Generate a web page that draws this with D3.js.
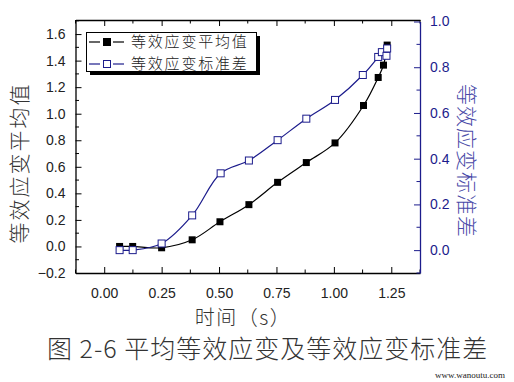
<!DOCTYPE html>
<html><head><meta charset="utf-8">
<script src="https://cdn.jsdelivr.net/npm/d3@7"></script>
<style>body{margin:0;background:#fff;}svg{display:block;}</style>
</head><body>
<script>
const timeS = [0.067, 0.124, 0.25, 0.383, 0.504, 0.63, 0.755, 0.88, 1.005, 1.129, 1.193, 1.216, 1.232];
const meanStrain = [0.0, 0.0, -0.01, 0.05, 0.186, 0.315, 0.483, 0.632, 0.78, 1.062, 1.273, 1.366, 1.517];
const stdTime = [0.067, 0.124, 0.25, 0.383, 0.507, 0.63, 0.755, 0.88, 1.005, 1.126, 1.193, 1.209, 1.229, 1.232];
const stdStrain = [0.0, 0.0, 0.029, 0.152, 0.336, 0.392, 0.481, 0.575, 0.657, 0.766, 0.845, 0.866, 0.85, 0.882];
const xTicks = [0.00, 0.25, 0.50, 0.75, 1.00, 1.25];
const yLeftTicks = [-0.2, 0.0, 0.2, 0.4, 0.6, 0.8, 1.0, 1.2, 1.4, 1.6];
const yRightTicks = [0.0, 0.2, 0.4, 0.6, 0.8, 1.0];
const seriesNames = ["等效应变平均值", "等效应变标准差"];

const W = 514, H = 382;
const L = 75.5, R = 420, T = 20, B = 273;
const navy = "#1c1c8c";
const svg = d3.select("body").append("svg").attr("width", W).attr("height", H);

const x = d3.scaleLinear().domain([-0.125, 1.375]).range([L, R]);
const yL = d3.scaleLinear().domain([-0.2, 1.706]).range([B, T]);
const yR = d3.scaleLinear().domain([-0.1, 1.0]).range([B, T+1.5]);

const tickFont = "'Liberation Sans', Arial, sans-serif";
const cjk = "'Noto Sans CJK SC', sans-serif";

// bottom axis (ticks inward)
const gB = svg.append("g").attr("transform", `translate(0,${B})`)
  .call(d3.axisBottom(x).tickValues(xTicks).tickSizeInner(-6).tickSizeOuter(0).tickPadding(15).tickFormat(d3.format(".2f")));
gB.selectAll("text").attr("font-size", 14).attr("font-family", tickFont).attr("fill", "#222");
const minorX = d3.range(-0.125, 1.376, 0.125).filter(v => !xTicks.some(t => Math.abs(t - v) < 1e-6));
gB.selectAll(".minor").data(minorX).join("line").attr("x1", d => x(d)).attr("x2", d => x(d)).attr("y1", 0).attr("y2", -3.5).attr("stroke", "#000");
// top axis
const gT = svg.append("g").attr("transform", `translate(0,${T})`)
  .call(d3.axisTop(x).tickValues(xTicks).tickSizeInner(-6).tickSizeOuter(0).tickFormat(""));
gT.selectAll(".minor").data(minorX).join("line").attr("x1", d => x(d)).attr("x2", d => x(d)).attr("y1", 0).attr("y2", 3.5).attr("stroke", "#000");

// left axis
const gL = svg.append("g").attr("transform", `translate(${L},0)`)
  .call(d3.axisLeft(yL).tickValues(yLeftTicks).tickSizeInner(-6).tickSizeOuter(0).tickPadding(10).tickFormat(d3.format(".1f")));
gL.selectAll("text").attr("font-size", 14).attr("font-family", tickFont).attr("fill", "#222");
const minorL = d3.range(-0.1, 1.71, 0.2);
gL.selectAll(".minor").data(minorL).join("line").attr("x1", 0).attr("x2", 3.5).attr("y1", d => yL(d)).attr("y2", d => yL(d)).attr("stroke", "#000");

// right axis
const gR = svg.append("g").attr("transform", `translate(${R},0)`)
  .call(d3.axisRight(yR).tickValues(yRightTicks).tickSizeInner(-6).tickSizeOuter(0).tickPadding(10).tickFormat(d3.format(".1f")));
gR.selectAll("path,line").attr("stroke", navy);
gR.selectAll("text").attr("font-size", 14).attr("font-family", tickFont).attr("fill", navy);
const minorR = [-0.1, 0.1, 0.3, 0.5, 0.7, 0.9];
gR.selectAll(".minor").data(minorR).join("line").attr("x1", 0).attr("x2", -3.5).attr("y1", d => yR(d)).attr("y2", d => yR(d)).attr("stroke", navy);

svg.selectAll(".domain").attr("stroke-width", 1.3);
gR.select(".domain").attr("stroke", navy);

// curves
const lineMean = d3.line().x((d, i) => x(timeS[i])).y(d => yL(d)).curve(d3.curveCatmullRom.alpha(0.5));
const lineStd = d3.line().x((d, i) => x(stdTime[i])).y(d => yR(d)).curve(d3.curveCatmullRom.alpha(0.5));
svg.append("path").attr("d", lineMean(meanStrain)).attr("fill", "none").attr("stroke", "#000").attr("stroke-width", 1.2);
svg.append("path").attr("d", lineStd(stdStrain)).attr("fill", "none").attr("stroke", navy).attr("stroke-width", 1.2);

const s = 7;
svg.selectAll(".mpt").data(meanStrain).join("rect")
  .attr("x", (d, i) => x(timeS[i]) - s/2).attr("y", d => yL(d) - s/2)
  .attr("width", s).attr("height", s).attr("fill", "#000");
svg.selectAll(".spt").data(stdStrain).join("rect")
  .attr("x", (d, i) => x(stdTime[i]) - s/2).attr("y", d => yR(d) - s/2)
  .attr("width", s).attr("height", s).attr("fill", "#fff").attr("stroke", navy).attr("stroke-width", 1);

// legend
const lg = svg.append("g");
lg.append("rect").attr("x", 90).attr("y", 36).attr("width", 170).attr("height", 39).attr("fill", "#000");
lg.append("rect").attr("x", 86.5).attr("y", 32.5).attr("width", 170).attr("height", 39).attr("fill", "#fff").attr("stroke", "#000").attr("stroke-width", 1);
const rows = [{c: "#000", fill: "#000", y: 42}, {c: navy, fill: "#fff", y: 64}];
rows.forEach((r, i) => {
  lg.append("line").attr("x1", 89).attr("x2", 100).attr("y1", r.y).attr("y2", r.y).attr("stroke", r.c).attr("stroke-width", 1.2);
  lg.append("line").attr("x1", 113).attr("x2", 124).attr("y1", r.y).attr("y2", r.y).attr("stroke", r.c).attr("stroke-width", 1.2);
  lg.append("rect").attr("x", 103.5).attr("y", r.y - 3.5).attr("width", 7).attr("height", 7).attr("fill", r.fill).attr("stroke", r.c);
  lg.append("text").attr("x", 131).attr("y", r.y).attr("dy", "0.36em").attr("font-size", 15).attr("letter-spacing", 1.8).attr("font-family", cjk).attr("font-weight", 300).attr("fill", "#222").text(seriesNames[i]);
});

// axis titles
svg.append("text").attr("transform", "translate(20,163) rotate(-90)").attr("text-anchor", "middle").attr("dy", "0.35em")
  .attr("font-size", 21).attr("font-family", cjk).attr("font-weight", 300).attr("fill", "#333").attr("letter-spacing", 2).text(seriesNames[0]);
svg.append("text").attr("transform", "translate(466,161) rotate(90)").attr("text-anchor", "middle").attr("dy", "0.35em")
  .attr("font-size", 21).attr("font-family", cjk).attr("font-weight", 300).attr("fill", "#4a4aa8").attr("letter-spacing", 1).text(seriesNames[1]);
svg.append("text").attr("x", 243).attr("y", 318).attr("text-anchor", "middle").attr("dy", "0.35em")
  .attr("font-size", 20).attr("letter-spacing", 1.5).attr("font-family", cjk).attr("font-weight", 300).attr("fill", "#333").text("时间（s）");

// caption
svg.append("text").attr("x", 47).attr("y", 349).attr("dy", "0.35em")
  .attr("font-size", 25).attr("letter-spacing", 1).attr("font-family", cjk).attr("font-weight", 300).attr("fill", "#333").text("图 2-6 平均等效应变及等效应变标准差");
svg.append("text").attr("x", 505).attr("y", 378).attr("text-anchor", "end")
  .attr("font-size", 9).attr("font-family", "'Liberation Serif', serif").attr("fill", "#222").text("www.wanoutu.com");
</script>
</body></html>
